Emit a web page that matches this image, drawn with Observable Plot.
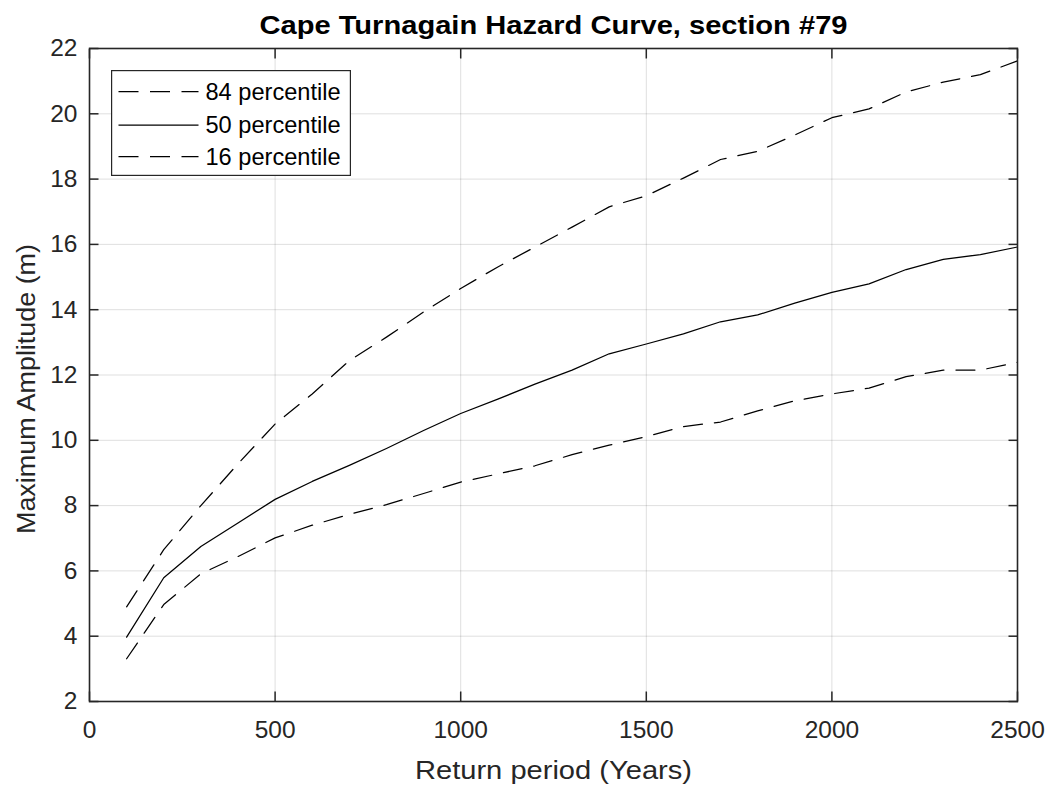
<!DOCTYPE html>
<html>
<head>
<meta charset="utf-8">
<script src="https://cdn.jsdelivr.net/npm/d3@7"></script>
<script src="https://cdn.jsdelivr.net/npm/@observablehq/plot@0.6"></script>
<style>
  body { margin: 0; background: #fff; }
  #wrap { position: relative; width: 1052px; height: 788px; background: #fff; }
  #wrap svg { display: block; }
  #legend { position: absolute; left: 110.5px; top: 70px; }
</style>
</head>
<body>
<div id="wrap"></div>
<script>
// ---- data ----
const years = [100, 200, 300, 400, 500, 600, 700, 800, 900, 1000, 1100, 1200, 1300,
               1400, 1500, 1600, 1700, 1800, 1900, 2000, 2100, 2200, 2300, 2400, 2500];
const p84 = [4.90, 6.65, 8.00, 9.28, 10.50, 11.42, 12.44, 13.16, 13.93, 14.65, 15.31, 15.92, 16.53,
             17.15, 17.49, 18.03, 18.60, 18.85, 19.35, 19.88, 20.15, 20.67, 20.97, 21.20, 21.62];
const p50 = [3.97, 5.79, 6.75, 7.47, 8.19, 8.74, 9.23, 9.75, 10.30, 10.82, 11.26, 11.72, 12.15,
             12.65, 12.95, 13.26, 13.63, 13.84, 14.20, 14.53, 14.79, 15.23, 15.54, 15.69, 15.92];
const p16 = [3.31, 4.97, 5.91, 6.44, 7.01, 7.40, 7.73, 8.03, 8.37, 8.72, 8.97, 9.22, 9.56,
             9.85, 10.11, 10.42, 10.56, 10.90, 11.21, 11.42, 11.60, 11.95, 12.15, 12.15, 12.39];
const seriesNames = ["84 percentile", "50 percentile", "16 percentile"];
const xTicks = [0, 500, 1000, 1500, 2000, 2500];
const yTicks = [2, 4, 6, 8, 10, 12, 14, 16, 18, 20, 22];
const titleText = "Cape Turnagain Hazard Curve, section #79";
const xLabel = "Return period (Years)";
const yLabel = "Maximum Amplitude (m)";

// ---- build table ----
const seriesValues = [p84, p50, p16];
const rows = [];
seriesNames.forEach((name, i) => {
  years.forEach((t, j) => rows.push({series: name, t, v: seriesValues[i][j]}));
});
const dashes = {"84 percentile": "19,12", "50 percentile": null, "16 percentile": "19,12"};

const ink = "#262626";
const font = "'Liberation Sans', Arial, Helvetica, sans-serif";
const plain = d => String(d);

const lineMarks = seriesNames.map(name =>
  Plot.line(rows.filter(d => d.series === name), {
    x: "t", y: "v", stroke: "#000", strokeWidth: 1.25,
    strokeDasharray: dashes[name] || undefined
  })
);

const chart = Plot.plot({
  width: 1052,
  height: 788,
  marginLeft: 89,
  marginRight: 35,
  marginTop: 48,
  marginBottom: 87,
  style: {fontFamily: font, fontSize: "24.5px", color: ink, background: "#fff"},
  x: {domain: [0, 2500]},
  y: {domain: [2, 22]},
  marks: [
    Plot.gridX({ticks: xTicks, stroke: ink, strokeOpacity: 0.15, strokeWidth: 1}),
    Plot.gridY({ticks: yTicks, stroke: ink, strokeOpacity: 0.15, strokeWidth: 1}),
    ...lineMarks,
    // inward ticks on all four sides
    Plot.axisX({ticks: xTicks, anchor: "bottom", tickSize: -9.5, fill: "none", stroke: ink, strokeWidth: 1.5}),
    Plot.axisX({ticks: xTicks, anchor: "top", tickSize: -9.5, fill: "none", stroke: ink, strokeWidth: 1.5}),
    Plot.axisY({ticks: yTicks, anchor: "left", tickSize: -9.5, fill: "none", stroke: ink, strokeWidth: 1.5}),
    Plot.axisY({ticks: yTicks, anchor: "right", tickSize: -9.5, fill: "none", stroke: ink, strokeWidth: 1.5}),
    // tick labels
    Plot.axisX({ticks: xTicks, anchor: "bottom", tickSize: 0, tickPadding: 19, tickFormat: plain,
                fill: ink, fontSize: 24.5, label: null}),
    Plot.axisY({ticks: yTicks, anchor: "left", tickSize: 0, tickPadding: 12, tickFormat: plain,
                fill: ink, fontSize: 24.5, label: null}),
    Plot.frame({stroke: ink, strokeWidth: 1.6}),
    // axis labels and title
    Plot.text([xLabel], {frameAnchor: "bottom", dy: 69.5, lineAnchor: "middle", fontSize: 26.4, fill: ink}),
    Plot.text([yLabel], {frameAnchor: "left", dx: -63, dy: 14, rotate: -90, textAnchor: "middle",
                         lineAnchor: "middle", fontSize: 26.4, fill: ink}),
    Plot.text([titleText], {frameAnchor: "top", dy: -23, lineAnchor: "middle", fontSize: 26.4,
                            fontWeight: "bold", fill: "#000"})
  ]
});

const wrap = document.getElementById("wrap");
wrap.appendChild(chart);

// stretch title and axis labels to the reference widths
const svgSel = d3.select(chart);
svgSel.selectAll("text").each(function() {
  const t = this.textContent;
  if (t === titleText) {
    d3.select(this).attr("textLength", 588).attr("lengthAdjust", "spacingAndGlyphs");
  } else if (t === xLabel) {
    d3.select(this).attr("textLength", 277).attr("lengthAdjust", "spacingAndGlyphs");
  } else if (t === yLabel) {
    d3.select(this).attr("textLength", 290).attr("lengthAdjust", "spacingAndGlyphs");
  }
});

// ---- legend ----
const legW = 240, legH = 106, rowY = [21.7, 55, 86.7];
const leg = d3.select(wrap).append("svg")
  .attr("id", "legend")
  .attr("width", legW).attr("height", legH)
  .style("font-family", font);
leg.append("rect")
  .attr("x", 0.6).attr("y", 0.6).attr("width", legW - 1.2).attr("height", legH - 1.2)
  .attr("fill", "#fff").attr("stroke", ink).attr("stroke-width", 1.2);
seriesNames.forEach((name, i) => {
  leg.append("line")
    .attr("x1", 7.5).attr("x2", 87.5).attr("y1", rowY[i]).attr("y2", rowY[i])
    .attr("stroke", "#000").attr("stroke-width", 1.25)
    .attr("stroke-dasharray", dashes[name] ? "20,11.5" : null);
  leg.append("text")
    .attr("x", 94.5).attr("y", rowY[i]).attr("dy", "0.35em")
    .attr("font-size", 23.6).attr("fill", "#000")
    .text(name);
});
</script>
</body>
</html>
